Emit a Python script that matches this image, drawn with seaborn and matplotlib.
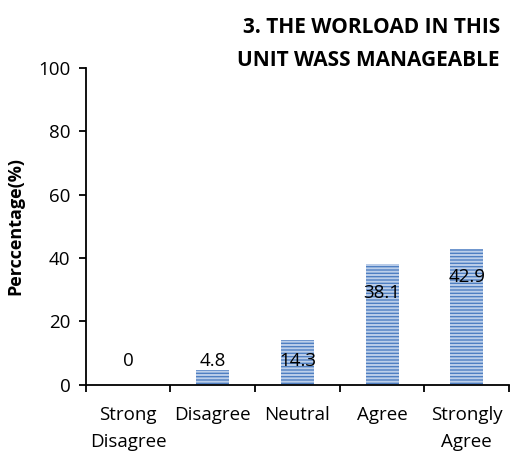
import matplotlib
matplotlib.use("Agg")
import matplotlib.pyplot as plt
import seaborn as sns
import pandas as pd
import numpy as np

# data
categories = ["Strong\nDisagree", "Disagree", "Neutral", "Agree", "Strongly\nAgree"]
values = [0, 4.8, 14.3, 38.1, 42.9]
value_labels = ["0", "4.8", "14.3", "38.1", "42.9"]

df = pd.DataFrame({"Response": categories, "Percentage": values})

sns.set_style("white")
plt.rcParams['font.family'] = ['Open Sans', 'DejaVu Sans']
plt.rcParams['text.color'] = 'black'
plt.rcParams['xtick.color'] = 'black'
plt.rcParams['ytick.color'] = 'black'
plt.rcParams['axes.labelcolor'] = 'black'
plt.rcParams['hatch.linewidth'] = 1.4

fig = plt.figure(figsize=(5.11, 4.57), dpi=100)
ax = fig.add_axes([0.168, 0.158, 0.828, 0.693])

sns.barplot(data=df, x="Response", y="Percentage", ax=ax, width=0.39,
            color="#4F7FC2", saturation=1)
for p in ax.patches:
    p.set_hatch("-----")
    p.set_edgecolor("#BCCFEA")
    p.set_linewidth(0)

# value labels (Excel style, near the top of each bar)
for i, (v, lab) in enumerate(zip(values, value_labels)):
    ax.text(i, max(v - 9, 7.5), lab, ha="center", va="center", fontsize=13.5)

ax.set_ylim(0, 100)
ax.set_xlim(-0.5, 4.5)
ax.set_yticks([0, 20, 40, 60, 80, 100])
ax.set_xlabel("")
ax.set_ylabel("Perccentage(%)", fontsize=13, fontweight="bold", labelpad=10)

for side in ["top", "right"]:
    ax.spines[side].set_visible(False)
for side in ["left", "bottom"]:
    ax.spines[side].set_color("black")
    ax.spines[side].set_linewidth(1.3)

ax.set_xticks(np.arange(-0.5, 5, 1), minor=True)
ax.tick_params(axis="x", which="major", length=0, pad=15, labelsize=13.5)
ax.tick_params(axis="x", which="minor", length=5, width=1.3, direction="out", bottom=True)
ax.tick_params(axis="y", length=5, width=1.3, direction="out", left=True, labelsize=13.5, pad=6)
for t in ax.get_xticklabels():
    t.set_linespacing(1.65)

fig.text(0.978, 0.962, "3. THE WORLOAD IN THIS\nUNIT WASS MANAGEABLE",
         ha="right", va="top", fontsize=15, fontweight="bold", linespacing=1.75)

fig.savefig("out.png", dpi=100)
